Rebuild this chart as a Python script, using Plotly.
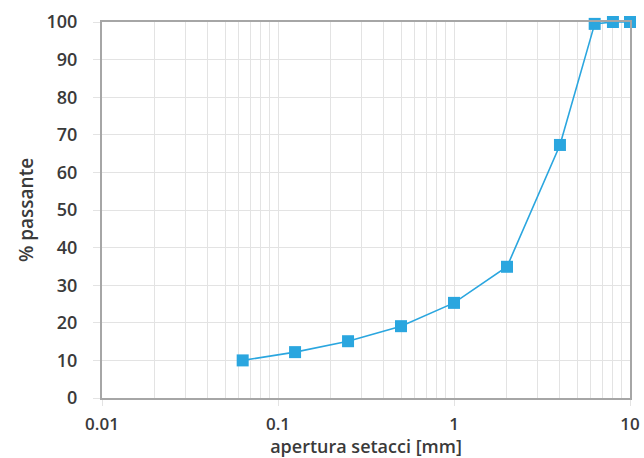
import plotly.graph_objects as go

aperture_mm = [0.063, 0.125, 0.25, 0.5, 1, 2, 4, 6.3, 8, 10]
passante_pct = [10, 12.2, 15.1, 19.1, 25.3, 34.9, 67.3, 99.5, 100, 100]
x_tickvals = [0.01, 0.1, 1, 10]
x_ticktext = ["0.01", "0.1", "1", "10"]
y_tickvals = [0, 10, 20, 30, 40, 50, 60, 70, 80, 90, 100]

blue = "#2aa6df"
grid = "#e3e3e3"
frame = "#a6a6a6"
txt = "#3a3a3a"

fig = go.Figure()
fig.add_trace(go.Scatter(
    x=aperture_mm, y=passante_pct, mode="lines+markers",
    line=dict(color=blue, width=1.6),
    marker=dict(symbol="square", size=12, color=blue),
    cliponaxis=False, showlegend=False,
))

fig.update_layout(
    width=644, height=458,
    margin=dict(l=102, r=14, t=22, b=60),
    paper_bgcolor="white", plot_bgcolor="white",
    font=dict(family="Open Sans", color=txt, size=18, weight=600),
    xaxis=dict(
        type="log", range=[-2, 1], automargin=False,
        tickvals=x_tickvals, ticktext=x_ticktext,
        showgrid=True, gridcolor=grid, gridwidth=1,
        minor=dict(dtick="D1", showgrid=True, gridcolor=grid, gridwidth=1, ticks=""),
        ticks="outside", ticklen=6, tickcolor=grid,
        ticklabelstandoff=4,
        showline=True, linecolor=frame, linewidth=2, mirror=True,
        zeroline=False,
        title=dict(text="apertura setacci [mm]", font=dict(size=18, weight=600), standoff=3),
        tickfont=dict(size=17, weight=600),
    ),
    yaxis=dict(
        range=[0, 100], tickvals=y_tickvals, automargin=False,
        showgrid=True, gridcolor=grid, gridwidth=1,
        ticks="outside", ticklen=7, tickcolor=grid,
        ticklabelstandoff=12,
        showline=True, linecolor=frame, linewidth=2, mirror=True,
        zeroline=False,
        title=dict(text="% passante", font=dict(size=19, weight=600), standoff=8),
        tickfont=dict(size=18, weight=600),
    ),
)

fig.write_html("out.html", config={"displayModeBar": False},
               post_script="document.body.style.margin='0';")
